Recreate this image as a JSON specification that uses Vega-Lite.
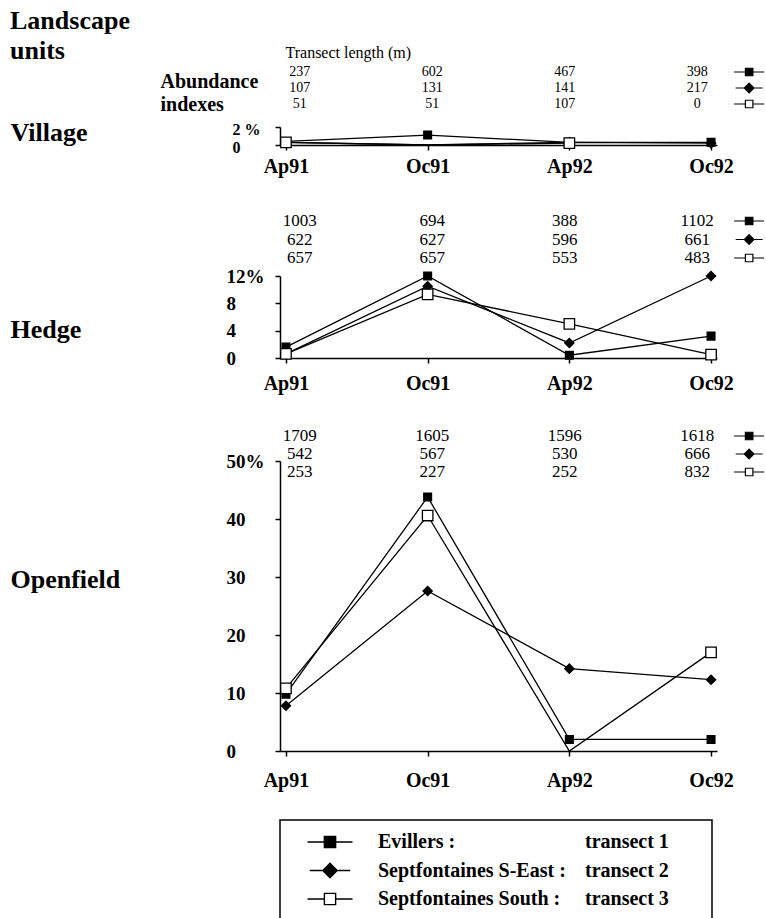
{
  "$schema": "https://vega.github.io/schema/vega-lite/v6.json",
  "background": "white",
  "padding": {"left": 10, "top": 8, "right": 0, "bottom": 0},
  "bounds": "flush",
  "spacing": 0,
  "resolve": {"scale": {"shape": "independent"}},
  "datasets": {
    "abund": [
      {"unit": "Village", "date": "Ap91", "series": "Evillers", "pct": 0.4, "length": 237},
      {"unit": "Village", "date": "Ap91", "series": "Septfontaines S-East", "pct": 0.3, "length": 107},
      {"unit": "Village", "date": "Ap91", "series": "Septfontaines South", "pct": 0.3, "length": 51},
      {"unit": "Village", "date": "Oc91", "series": "Evillers", "pct": 1.1, "length": 602},
      {"unit": "Village", "date": "Oc91", "series": "Septfontaines S-East", "pct": 0, "length": 131},
      {"unit": "Village", "date": "Oc91", "series": "Septfontaines South", "pct": 0, "length": 51},
      {"unit": "Village", "date": "Ap92", "series": "Evillers", "pct": 0.3, "length": 467},
      {"unit": "Village", "date": "Ap92", "series": "Septfontaines S-East", "pct": 0.3, "length": 141},
      {"unit": "Village", "date": "Ap92", "series": "Septfontaines South", "pct": 0.2, "length": 107},
      {"unit": "Village", "date": "Oc92", "series": "Evillers", "pct": 0.3, "length": 398},
      {"unit": "Village", "date": "Oc92", "series": "Septfontaines S-East", "pct": 0.2, "length": 217},
      {"unit": "Village", "date": "Oc92", "series": "Septfontaines South", "pct": null, "length": 0},
      {"unit": "Hedge", "date": "Ap91", "series": "Evillers", "pct": 1.6, "length": 1003},
      {"unit": "Hedge", "date": "Ap91", "series": "Septfontaines S-East", "pct": 0.6, "length": 622},
      {"unit": "Hedge", "date": "Ap91", "series": "Septfontaines South", "pct": 0.6, "length": 657},
      {"unit": "Hedge", "date": "Oc91", "series": "Evillers", "pct": 12.0, "length": 694},
      {"unit": "Hedge", "date": "Oc91", "series": "Septfontaines S-East", "pct": 10.5, "length": 627},
      {"unit": "Hedge", "date": "Oc91", "series": "Septfontaines South", "pct": 9.3, "length": 657},
      {"unit": "Hedge", "date": "Ap92", "series": "Evillers", "pct": 0.4, "length": 388},
      {"unit": "Hedge", "date": "Ap92", "series": "Septfontaines S-East", "pct": 2.2, "length": 596},
      {"unit": "Hedge", "date": "Ap92", "series": "Septfontaines South", "pct": 5.0, "length": 553},
      {"unit": "Hedge", "date": "Oc92", "series": "Evillers", "pct": 3.2, "length": 1102},
      {"unit": "Hedge", "date": "Oc92", "series": "Septfontaines S-East", "pct": 12.0, "length": 661},
      {"unit": "Hedge", "date": "Oc92", "series": "Septfontaines South", "pct": 0.5, "length": 483},
      {"unit": "Openfield", "date": "Ap91", "series": "Evillers", "pct": 9.8, "length": 1709},
      {"unit": "Openfield", "date": "Ap91", "series": "Septfontaines S-East", "pct": 7.8, "length": 542},
      {"unit": "Openfield", "date": "Ap91", "series": "Septfontaines South", "pct": 10.8, "length": 253},
      {"unit": "Openfield", "date": "Oc91", "series": "Evillers", "pct": 43.8, "length": 1605},
      {"unit": "Openfield", "date": "Oc91", "series": "Septfontaines S-East", "pct": 27.6, "length": 567},
      {"unit": "Openfield", "date": "Oc91", "series": "Septfontaines South", "pct": 40.6, "length": 227},
      {"unit": "Openfield", "date": "Ap92", "series": "Evillers", "pct": 2.0, "length": 1596},
      {"unit": "Openfield", "date": "Ap92", "series": "Septfontaines S-East", "pct": 14.2, "length": 530},
      {"unit": "Openfield", "date": "Ap92", "series": "Septfontaines South", "pct": 0, "length": 252},
      {"unit": "Openfield", "date": "Oc92", "series": "Evillers", "pct": 2.0, "length": 1618},
      {"unit": "Openfield", "date": "Oc92", "series": "Septfontaines S-East", "pct": 12.3, "length": 666},
      {"unit": "Openfield", "date": "Oc92", "series": "Septfontaines South", "pct": 17.0, "length": 832}
    ],
    "legend": [
      {"series": "Evillers", "name": "Evillers :", "transect": "transect 1"},
      {"series": "Septfontaines S-East", "name": "Septfontaines S-East :", "transect": "transect 2"},
      {"series": "Septfontaines South", "name": "Septfontaines South :", "transect": "transect 3"}
    ]
  },
  "vconcat": [
    {
      "width": 437, "height": 78,
      "data": {"name": "abund"},
      "transform": [{"filter": "datum.unit === 'Village'"}],
      "title": {"text": ["Landscape", "units"], "anchor": "start", "frame": "group", "dx": -270, "dy": 20, "fontSize": 26, "fontWeight": "bold", "font": "Liberation Serif", "lineHeight": 30, "offset": 0, "color": "black"},
      "encoding": {
        "x": {"field": "date", "type": "ordinal", "sort": ["Ap91", "Oc91", "Ap92", "Oc92"], "scale": {"type": "point", "padding": 0.15},
              "axis": {"orient": "top", "labels": false, "ticks": false, "domain": false, "title": "Transect length (m)", "titleX": 5, "titleY": 3, "titleAlign": "left", "titleAnchor": "start", "titleBaseline": "middle", "titleFontSize": 16, "titleFontWeight": "normal"}},
        "y": {"field": "series", "type": "nominal", "sort": ["Evillers", "Septfontaines S-East", "Septfontaines South"], "scale": {"type": "point", "padding": 0, "range": [23, 55]},
              "axis": {"labels": false, "ticks": false, "domain": false, "title": ["Abundance", "indexes"], "titleAngle": 0, "titleX": -120, "titleY": 32, "titleAlign": "left", "titleBaseline": "middle", "titleFontSize": 20, "titleFontWeight": "bold", "titleLineHeight": 23}}
      },
      "layer": [
        {
          "mark": {"type": "text", "fontSize": 14, "align": "center", "baseline": "middle", "font": "Liberation Serif"},
          "encoding": {"text": {"field": "length", "type": "quantitative"}}
        },
        {
          "transform": [{"filter": "datum.date === 'Oc92'"}],
          "mark": {"type": "point", "filled": true, "xOffset": 52, "size": 900, "stroke": "black", "strokeWidth": 1.2, "opacity": 1},
          "encoding": {
            "shape": {"field": "series", "legend": null, "scale": {"domain": ["Evillers", "Septfontaines S-East", "Septfontaines South"], "range": ["M-1,0H-0.25M0.25,0H1M-0.25,-0.25H0.25V0.25H-0.25Z", "M-0.9,0H-0.35M0.35,0H0.9M0,-0.32L0.32,0L0,0.32L-0.32,0Z", "M-1,0H-0.25M0.25,0H1M-0.25,-0.25H0.25V0.25H-0.25Z"]}},
            "fill": {"field": "series", "legend": null, "scale": {"domain": ["Evillers", "Septfontaines S-East", "Septfontaines South"], "range": ["black", "black", "white"]}}
          }
        }
      ]
    },
    {
      "width": 437, "height": 18,
      "data": {"name": "abund"},
      "transform": [{"filter": "datum.unit === 'Village'"}],
      "encoding": {
        "x": {"field": "date", "type": "ordinal", "sort": ["Ap91", "Oc91", "Ap92", "Oc92"], "scale": {"type": "point", "padding": 0.042},
              "axis": {"title": null, "labelAngle": 0, "labelFontSize": 20, "labelFontWeight": "bold", "tickSize": 5, "labelPadding": 6}},
        "y": {"field": "pct", "type": "quantitative", "scale": {"domain": [0, 2], "nice": false},
              "axis": {"values": [0, 2], "labelExpr": "datum.value == 2 ? '2 %' : '0'", "labelOverlap": false, "labelAlign": "left", "labelPadding": 43, "tickSize": 5, "labelFontSize": 16, "labelFontWeight": "bold", "labelOffset": 2,
                       "title": "Village", "titleAngle": 0, "titleAlign": "left", "titleBaseline": "middle", "titleX": -270, "titleY": 5, "titleFontSize": 26, "titleFontWeight": "bold"}}
      },
      "layer": [
        {
          "mark": {"type": "line", "color": "black", "strokeWidth": 1.3},
          "encoding": {"detail": {"field": "series"}}
        },
        {
          "transform": [{"filter": "datum.pct > 0"}],
          "mark": {"type": "point", "filled": true, "stroke": "black", "strokeWidth": 1.3, "opacity": 1},
          "encoding": {
            "shape": {"field": "series", "legend": null, "scale": {"domain": ["Evillers", "Septfontaines S-East", "Septfontaines South"], "range": ["square", "diamond", "square"]}},
            "fill": {"field": "series", "legend": null},
            "size": {"field": "series", "legend": null, "scale": {"domain": ["Evillers", "Septfontaines S-East", "Septfontaines South"], "range": [60, 110, 80]}}
          }
        }
      ]
    },
    {
      "width": 437, "height": 131,
      "data": {"name": "abund"},
      "transform": [{"filter": "datum.unit === 'Hedge'"}],
      "encoding": {
        "x": {"field": "date", "type": "ordinal", "sort": ["Ap91", "Oc91", "Ap92", "Oc92"], "scale": {"type": "point", "padding": 0.15}, "axis": null},
        "y": {"field": "series", "type": "nominal", "sort": ["Evillers", "Septfontaines S-East", "Septfontaines South"], "scale": {"type": "point", "padding": 0, "range": [76, 113]}, "axis": null}
      },
      "layer": [
        {
          "mark": {"type": "text", "fontSize": 17, "align": "center", "baseline": "middle", "font": "Liberation Serif"},
          "encoding": {"text": {"field": "length", "type": "quantitative"}}
        },
        {
          "transform": [{"filter": "datum.date === 'Oc92'"}],
          "mark": {"type": "point", "filled": true, "xOffset": 52, "size": 900, "stroke": "black", "strokeWidth": 1.2, "opacity": 1},
          "encoding": {
            "shape": {"field": "series", "legend": null, "scale": {"domain": ["Evillers", "Septfontaines S-East", "Septfontaines South"], "range": ["M-1,0H-0.25M0.25,0H1M-0.25,-0.25H0.25V0.25H-0.25Z", "M-0.9,0H-0.35M0.35,0H0.9M0,-0.32L0.32,0L0,0.32L-0.32,0Z", "M-1,0H-0.25M0.25,0H1M-0.25,-0.25H0.25V0.25H-0.25Z"]}},
            "fill": {"field": "series", "legend": null}
          }
        }
      ]
    },
    {
      "width": 437, "height": 82,
      "data": {"name": "abund"},
      "transform": [{"filter": "datum.unit === 'Hedge'"}],
      "encoding": {
        "x": {"field": "date", "type": "ordinal", "sort": ["Ap91", "Oc91", "Ap92", "Oc92"], "scale": {"type": "point", "padding": 0.042},
              "axis": {"title": null, "labelAngle": 0, "labelFontSize": 20, "labelFontWeight": "bold", "tickSize": 5, "labelPadding": 10}},
        "y": {"field": "pct", "type": "quantitative", "scale": {"domain": [0, 12], "nice": false},
              "axis": {"values": [0, 4, 8, 12], "labelExpr": "datum.value == 12 ? '12%' : datum.value", "labelOverlap": false, "labelAlign": "left", "labelPadding": 49, "tickSize": 5, "labelFontSize": 19, "labelFontWeight": "bold",
                       "title": "Hedge", "titleAngle": 0, "titleAlign": "left", "titleBaseline": "middle", "titleX": -270, "titleY": 53, "titleFontSize": 26, "titleFontWeight": "bold"}}
      },
      "layer": [
        {
          "mark": {"type": "line", "color": "black", "strokeWidth": 1.3},
          "encoding": {"detail": {"field": "series"}}
        },
        {
          "transform": [{"filter": "datum.pct > 0"}],
          "mark": {"type": "point", "filled": true, "stroke": "black", "strokeWidth": 1.3, "opacity": 1},
          "encoding": {
            "shape": {"field": "series", "legend": null, "scale": {"domain": ["Evillers", "Septfontaines S-East", "Septfontaines South"], "range": ["square", "diamond", "square"]}},
            "fill": {"field": "series", "legend": null},
            "size": {"field": "series", "legend": null}
          }
        }
      ]
    },
    {
      "width": 437, "height": 103,
      "data": {"name": "abund"},
      "transform": [{"filter": "datum.unit === 'Openfield'"}],
      "encoding": {
        "x": {"field": "date", "type": "ordinal", "sort": ["Ap91", "Oc91", "Ap92", "Oc92"], "scale": {"type": "point", "padding": 0.15}, "axis": null},
        "y": {"field": "series", "type": "nominal", "sort": ["Evillers", "Septfontaines S-East", "Septfontaines South"], "scale": {"type": "point", "padding": 0, "range": [78, 114]}, "axis": null}
      },
      "layer": [
        {
          "mark": {"type": "text", "fontSize": 17, "align": "center", "baseline": "middle", "font": "Liberation Serif"},
          "encoding": {"text": {"field": "length", "type": "quantitative"}}
        },
        {
          "transform": [{"filter": "datum.date === 'Oc92'"}],
          "mark": {"type": "point", "filled": true, "xOffset": 52, "size": 900, "stroke": "black", "strokeWidth": 1.2, "opacity": 1},
          "encoding": {
            "shape": {"field": "series", "legend": null, "scale": {"domain": ["Evillers", "Septfontaines S-East", "Septfontaines South"], "range": ["M-1,0H-0.25M0.25,0H1M-0.25,-0.25H0.25V0.25H-0.25Z", "M-0.9,0H-0.35M0.35,0H0.9M0,-0.32L0.32,0L0,0.32L-0.32,0Z", "M-1,0H-0.25M0.25,0H1M-0.25,-0.25H0.25V0.25H-0.25Z"]}},
            "fill": {"field": "series", "legend": null}
          }
        }
      ]
    },
    {
      "width": 437, "height": 290,
      "data": {"name": "abund"},
      "transform": [{"filter": "datum.unit === 'Openfield'"}],
      "encoding": {
        "x": {"field": "date", "type": "ordinal", "sort": ["Ap91", "Oc91", "Ap92", "Oc92"], "scale": {"type": "point", "padding": 0.042},
              "axis": {"title": null, "labelAngle": 0, "labelFontSize": 20, "labelFontWeight": "bold", "tickSize": 5, "labelPadding": 14}},
        "y": {"field": "pct", "type": "quantitative", "scale": {"domain": [0, 50], "nice": false},
              "axis": {"values": [0, 10, 20, 30, 40, 50], "labelExpr": "datum.value == 50 ? '50%' : datum.value", "labelOverlap": false, "labelAlign": "left", "labelPadding": 49, "tickSize": 5, "labelFontSize": 19, "labelFontWeight": "bold",
                       "title": "Openfield", "titleAngle": 0, "titleAlign": "left", "titleBaseline": "middle", "titleX": -270, "titleY": 118, "titleFontSize": 26, "titleFontWeight": "bold"}}
      },
      "layer": [
        {
          "mark": {"type": "line", "color": "black", "strokeWidth": 1.3},
          "encoding": {"detail": {"field": "series"}}
        },
        {
          "transform": [{"filter": "datum.pct > 0"}],
          "mark": {"type": "point", "filled": true, "stroke": "black", "strokeWidth": 1.3, "opacity": 1},
          "encoding": {
            "shape": {"field": "series", "legend": null, "scale": {"domain": ["Evillers", "Septfontaines S-East", "Septfontaines South"], "range": ["square", "diamond", "square"]}},
            "fill": {"field": "series", "legend": null},
            "size": {"field": "series", "legend": null}
          }
        }
      ]
    },
    {
      "width": 437, "height": 69,
      "data": {"values": []},
      "mark": {"type": "point", "opacity": 0}
    },
    {
      "width": 432, "height": 100,
      "view": {"stroke": "black", "strokeWidth": 1.5},
      "data": {"name": "legend"},
      "encoding": {
        "y": {"field": "series", "type": "nominal", "sort": ["Evillers", "Septfontaines S-East", "Septfontaines South"], "scale": {"type": "point", "padding": 0, "range": [22, 79]}, "axis": null}
      },
      "layer": [
        {
          "transform": [{"fold": ["name", "transect"], "as": ["key", "label"]}],
          "mark": {"type": "text", "fontSize": 20, "fontWeight": "bold", "align": "left", "baseline": "middle", "font": "Liberation Serif"},
          "encoding": {
            "x": {"field": "key", "type": "nominal", "scale": {"type": "point", "padding": 0, "domain": ["name", "transect"], "range": [98, 305]}, "axis": null},
            "text": {"field": "label", "type": "nominal"}
          }
        },
        {
          "mark": {"type": "point", "filled": true, "xOffset": -48, "size": 2025, "stroke": "black", "strokeWidth": 1.4, "opacity": 1},
          "encoding": {
            "x": {"datum": "name"},
            "shape": {"field": "series", "legend": null, "scale": {"domain": ["Evillers", "Septfontaines S-East", "Septfontaines South"], "range": ["M-1,0H-0.25M0.25,0H1M-0.25,-0.25H0.25V0.25H-0.25Z", "M-0.9,0H-0.35M0.35,0H0.9M0,-0.32L0.32,0L0,0.32L-0.32,0Z", "M-1,0H-0.25M0.25,0H1M-0.25,-0.25H0.25V0.25H-0.25Z"]}},
            "fill": {"field": "series", "legend": null}
          }
        }
      ]
    }
  ],
  "config": {
    "view": {"stroke": null},
    "font": "Liberation Serif",
    "axis": {"labelFont": "Liberation Serif", "titleFont": "Liberation Serif", "labelColor": "black", "titleColor": "black", "domainColor": "black", "tickColor": "black", "domainWidth": 1.5, "tickWidth": 1.5, "grid": false},
    "text": {"color": "black"}
  }
}
